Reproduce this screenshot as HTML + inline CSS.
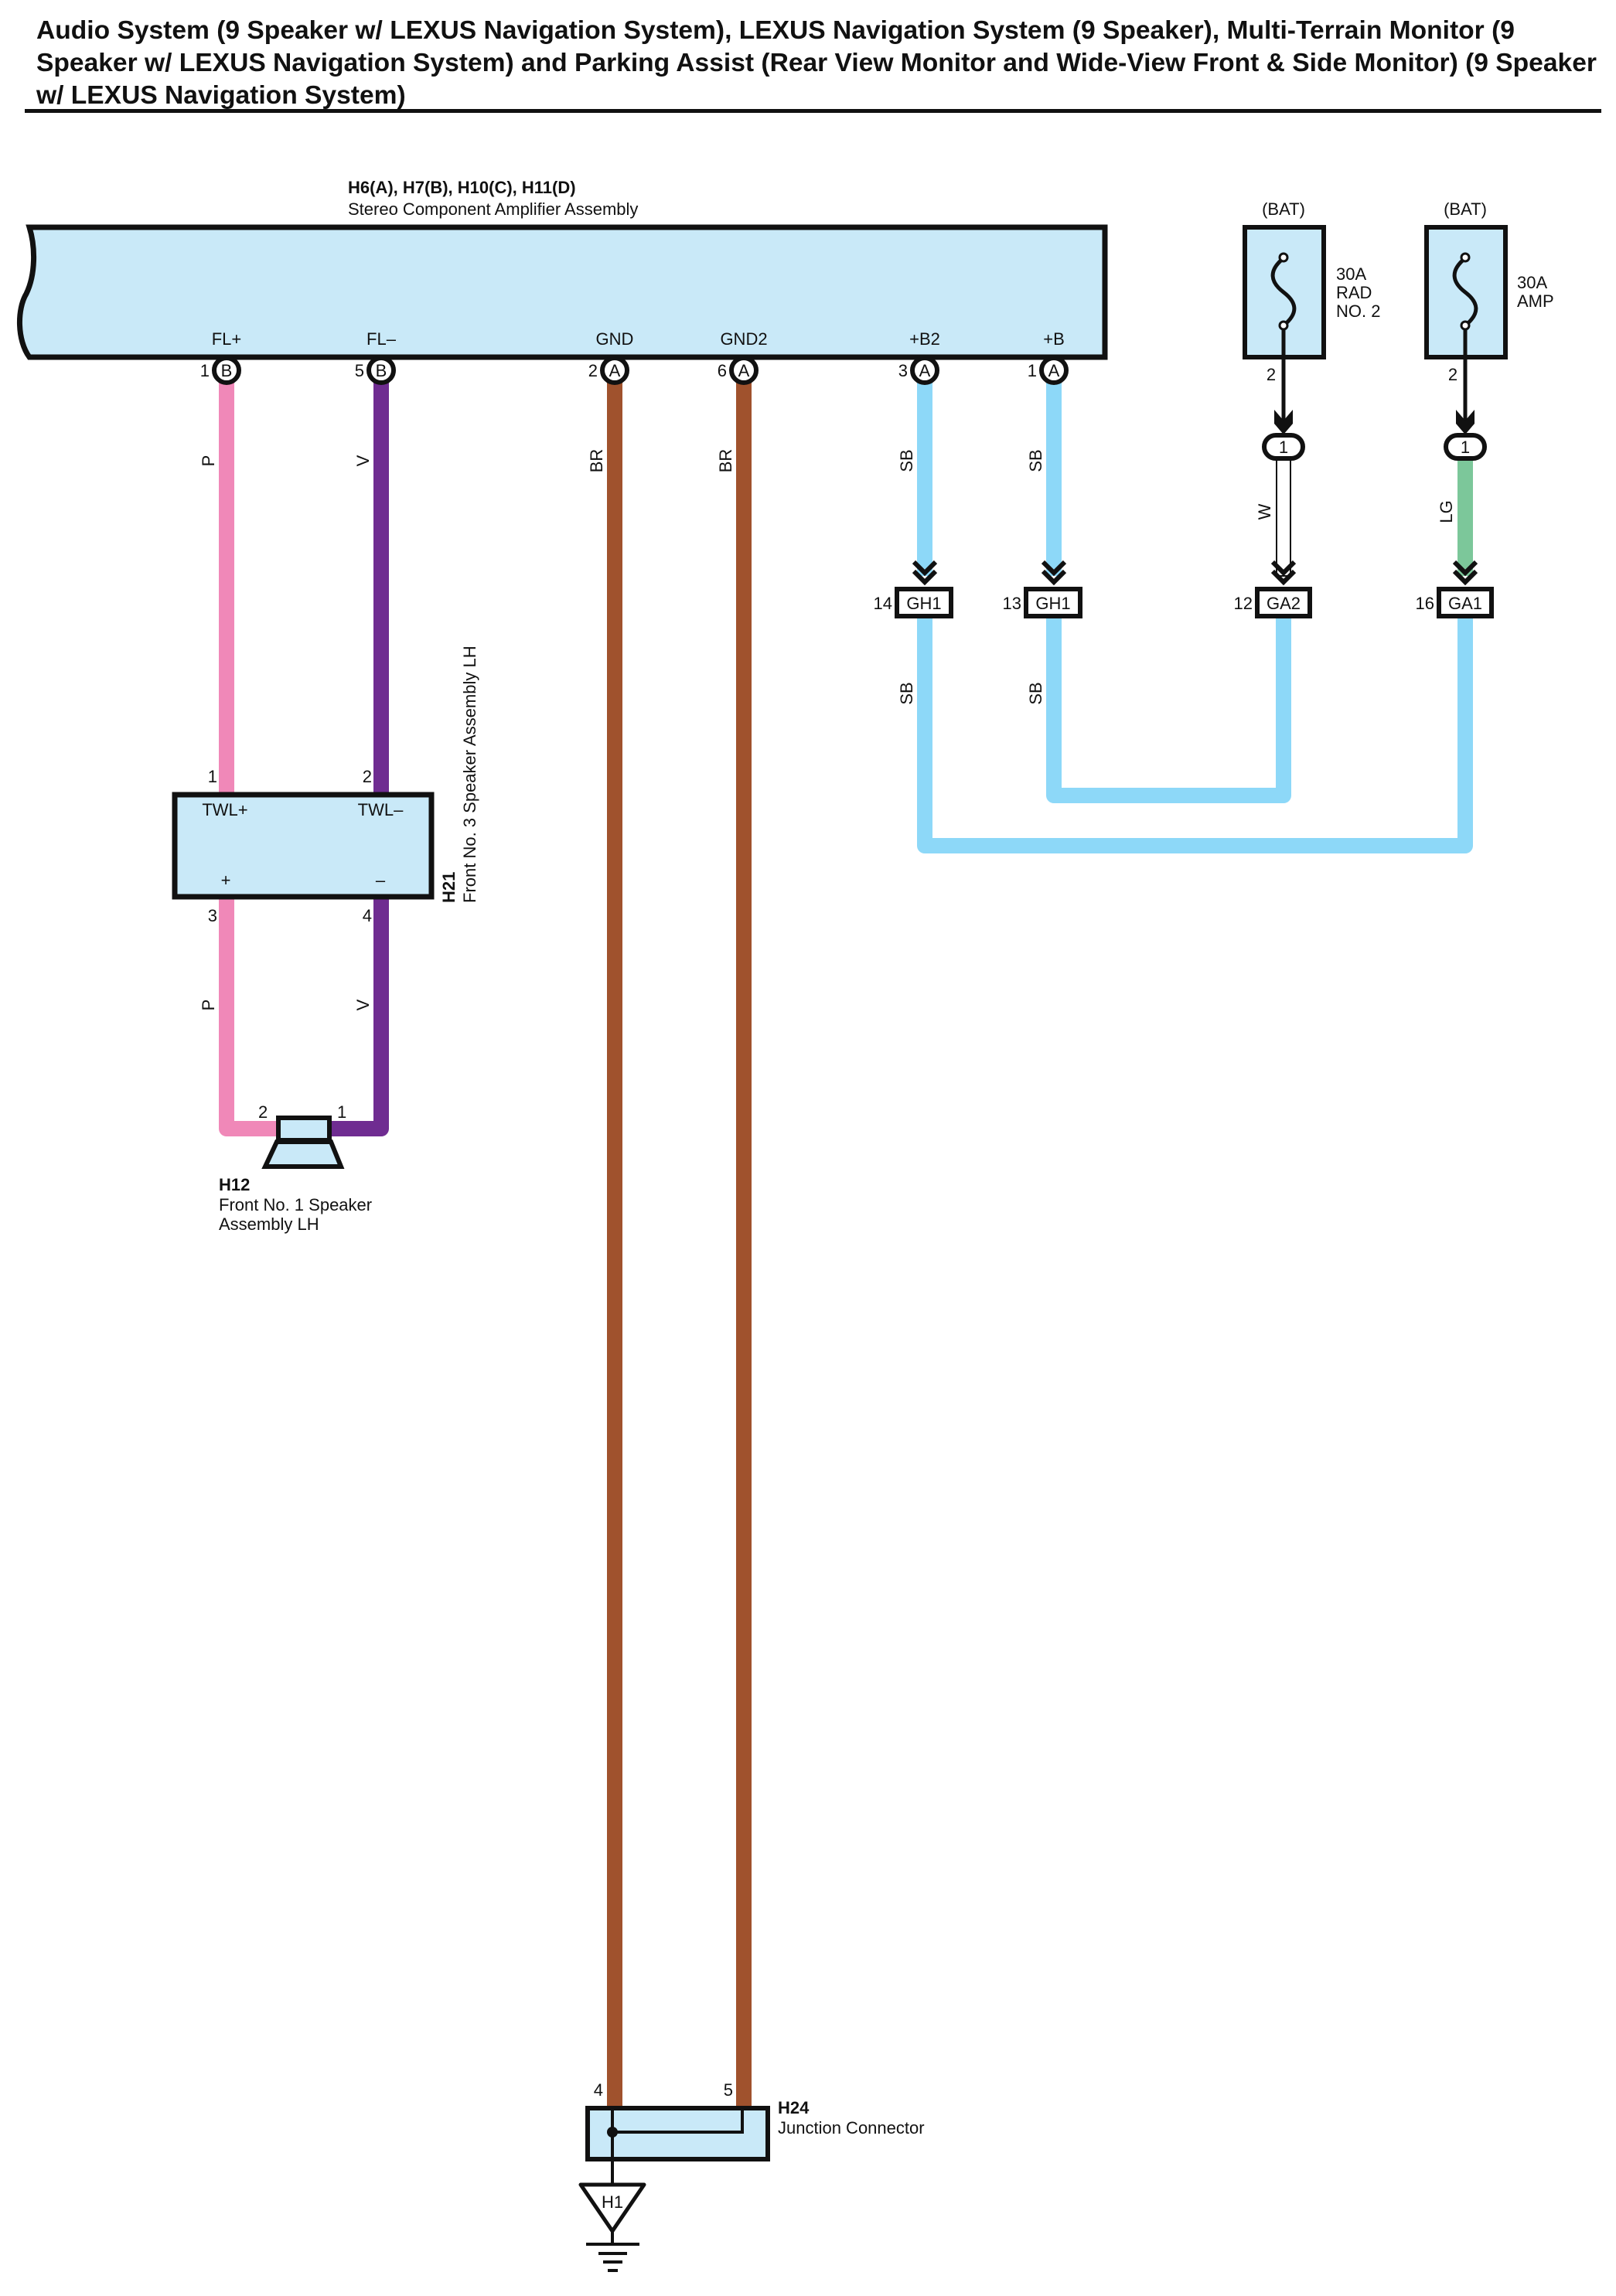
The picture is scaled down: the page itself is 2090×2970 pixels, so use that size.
<!DOCTYPE html>
<html><head><meta charset="utf-8"><style>
html,body{margin:0;padding:0;background:#fff}
svg{display:block}
text{font-family:"Liberation Sans",Arial,sans-serif;fill:#111}
.t{font-size:33.6px;font-weight:bold}
.s{font-size:22px}
.b{font-size:22px;font-weight:bold}
</style></head><body>
<svg width="2090" height="2970" viewBox="0 0 2090 2970" xmlns="http://www.w3.org/2000/svg">
<text class="t" x="47" y="50">Audio System (9 Speaker w/ LEXUS Navigation System), LEXUS Navigation System (9 Speaker), Multi-Terrain Monitor (9</text>
<text class="t" x="47" y="92">Speaker w/ LEXUS Navigation System) and Parking Assist (Rear View Monitor and Wide-View Front &amp; Side Monitor) (9 Speaker</text>
<text class="t" x="47" y="134">w/ LEXUS Navigation System)</text>
<rect x="32" y="141" width="2039" height="5" fill="#111"/>

<!-- amplifier -->
<text class="b" x="450" y="250">H6(A), H7(B), H10(C), H11(D)</text>
<text class="s" x="450" y="278">Stereo Component Amplifier Assembly</text>
<path d="M38,294 L1429,294 L1429,462 L38,462 C22,440 22,400 34,380 C46,355 46,320 38,294 Z" fill="#c9e9f8" stroke="#111" stroke-width="7"/>
<g class="s" text-anchor="middle">
<text x="293" y="446">FL+</text><text x="493" y="446">FL–</text><text x="795" y="446">GND</text>
<text x="962" y="446">GND2</text><text x="1196" y="446">+B2</text><text x="1363" y="446">+B</text>
</g>

<!-- wires -->
<g fill="none" stroke-width="20" stroke-linejoin="round">
<path d="M293,490 V1030" stroke="#f088b8"/>
<path d="M493,490 V1030" stroke="#6f2c91"/>
<path d="M293,1160 V1460 H360" stroke="#f088b8"/>
<path d="M493,1160 V1460 H425" stroke="#6f2c91"/>
<path d="M795,490 V2726" stroke="#a0522d"/>
<path d="M962,490 V2726" stroke="#a0522d"/>
<path d="M1196,490 V745" stroke="#8dd8f8"/>
<path d="M1363,490 V745" stroke="#8dd8f8"/>
<path d="M1196,798 V1094 H1895 V798" stroke="#8dd8f8"/>
<path d="M1363,798 V1029 H1660 V798" stroke="#8dd8f8"/>
<path d="M1895,595 V745" stroke="#7cc79a"/>
</g>
<!-- W wire -->
<rect x="1651" y="595" width="18" height="150" fill="#fff" stroke="#111" stroke-width="2"/>

<!-- pin circles -->
<g fill="#fff" stroke="#111" stroke-width="6">
<circle cx="293" cy="479" r="16"/><circle cx="493" cy="479" r="16"/><circle cx="795" cy="479" r="16"/>
<circle cx="962" cy="479" r="16"/><circle cx="1196" cy="479" r="16"/><circle cx="1363" cy="479" r="16"/>
</g>
<g class="s" text-anchor="middle">
<text x="293" y="487">B</text><text x="493" y="487">B</text><text x="795" y="487">A</text>
<text x="962" y="487">A</text><text x="1196" y="487">A</text><text x="1363" y="487">A</text>
</g>
<g class="s" text-anchor="end">
<text x="271" y="487">1</text><text x="471" y="487">5</text><text x="773" y="487">2</text>
<text x="940" y="487">6</text><text x="1174" y="487">3</text><text x="1341" y="487">1</text>
</g>

<!-- wire labels rotated -->
<g class="s" text-anchor="middle">
<text transform="translate(277,596) rotate(-90)">P</text>
<text transform="translate(477,596) rotate(-90)">V</text>
<text transform="translate(779,596) rotate(-90)">BR</text>
<text transform="translate(946,596) rotate(-90)">BR</text>
<text transform="translate(1180,596) rotate(-90)">SB</text>
<text transform="translate(1347,596) rotate(-90)">SB</text>
<text transform="translate(1180,897) rotate(-90)">SB</text>
<text transform="translate(1347,897) rotate(-90)">SB</text>
<text transform="translate(1643,662) rotate(-90)">W</text>
<text transform="translate(1878,662) rotate(-90)">LG</text>
<text transform="translate(277,1300) rotate(-90)">P</text>
<text transform="translate(477,1300) rotate(-90)">V</text>
</g>

<!-- chevrons -->
<g fill="none" stroke="#111" stroke-width="6">
<path d="M1182,727 L1196,741 L1210,727 M1182,739 L1196,753 L1210,739"/>
<path d="M1349,727 L1363,741 L1377,727 M1349,739 L1363,753 L1377,739"/>
<path d="M1646,727 L1660,741 L1674,727 M1646,739 L1660,753 L1674,739"/>
<path d="M1881,727 L1895,741 L1909,727 M1881,739 L1895,753 L1909,739"/>
</g>
<!-- in-line connector boxes -->
<g fill="#fff" stroke="#111" stroke-width="6">
<rect x="1160" y="762" width="70" height="35"/><rect x="1327" y="762" width="70" height="35"/>
<rect x="1626" y="762" width="68" height="35"/><rect x="1861" y="762" width="68" height="35"/>
</g>
<g class="s" text-anchor="middle">
<text x="1195" y="788">GH1</text><text x="1362" y="788">GH1</text><text x="1660" y="788">GA2</text><text x="1895" y="788">GA1</text>
</g>
<g class="s" text-anchor="end">
<text x="1154" y="788">14</text><text x="1321" y="788">13</text><text x="1620" y="788">12</text><text x="1855" y="788">16</text>
</g>

<!-- fuses -->
<g class="s" text-anchor="middle"><text x="1660" y="278">(BAT)</text><text x="1895" y="278">(BAT)</text></g>
<rect x="1610" y="294" width="102" height="168" fill="#c9e9f8" stroke="#111" stroke-width="6"/>
<rect x="1845" y="294" width="102" height="168" fill="#c9e9f8" stroke="#111" stroke-width="6"/>
<g fill="none" stroke="#111" stroke-width="5">
<path d="M1660,334 C1640,350 1643,365 1660,378 C1677,391 1680,405 1660,421"/>
<path d="M1895,334 C1875,350 1878,365 1895,378 C1912,391 1915,405 1895,421"/>
<path d="M1660,421 V548 M1895,421 V548"/>
</g>
<g fill="#fff" stroke="#111" stroke-width="3"><circle cx="1660" cy="333" r="5"/><circle cx="1660" cy="421" r="5"/><circle cx="1895" cy="333" r="5"/><circle cx="1895" cy="421" r="5"/></g>
<path d="M1648,530 L1660,544 L1672,530 L1672,548 L1660,562 L1648,548 Z" fill="#111"/>
<path d="M1883,530 L1895,544 L1907,530 L1907,548 L1895,562 L1883,548 Z" fill="#111"/>
<g fill="#fff" stroke="#111" stroke-width="6"><rect x="1635" y="563" width="50" height="30" rx="15"/><rect x="1870" y="563" width="50" height="30" rx="15"/></g>
<g class="s" text-anchor="middle"><text x="1660" y="586">1</text><text x="1895" y="586">1</text>
<text x="1644" y="492">2</text><text x="1879" y="492">2</text></g>
<g class="s"><text x="1728" y="362">30A</text><text x="1728" y="386">RAD</text><text x="1728" y="410">NO. 2</text>
<text x="1962" y="373">30A</text><text x="1962" y="397">AMP</text></g>

<!-- H21 -->
<rect x="226" y="1028" width="332" height="132" fill="#c9e9f8" stroke="#111" stroke-width="7"/>
<g class="s" text-anchor="middle"><text x="291" y="1055">TWL+</text><text x="492" y="1055">TWL–</text>
<text x="292" y="1146">+</text><text x="492" y="1146">–</text></g>
<g class="s" text-anchor="end"><text x="281" y="1012">1</text><text x="481" y="1012">2</text><text x="281" y="1192">3</text><text x="481" y="1192">4</text></g>
<text class="b" transform="translate(588,1168) rotate(-90)">H21</text>
<text class="s" transform="translate(615,1168) rotate(-90)">Front No.  3 Speaker Assembly LH</text>

<!-- H12 speaker -->
<rect x="360" y="1446" width="66" height="29" fill="#c9e9f8" stroke="#111" stroke-width="6"/>
<path d="M358,1477 L428,1477 L441,1509 L343,1509 Z" fill="#c9e9f8" stroke="#111" stroke-width="6"/>
<g class="s"><text x="334" y="1446">2</text><text x="436" y="1446">1</text></g>
<text class="b" x="283" y="1540">H12</text>
<text class="s" x="283" y="1566">Front No.  1 Speaker</text>
<text class="s" x="283" y="1591">Assembly LH</text>

<!-- H24 junction -->
<rect x="760" y="2727" width="233" height="66" fill="#c9e9f8" stroke="#111" stroke-width="6"/>
<path d="M792,2727 V2825 M792,2758 H960 V2727" fill="none" stroke="#111" stroke-width="4"/>
<circle cx="792" cy="2758" r="7" fill="#111"/>
<g class="s" text-anchor="end"><text x="780" y="2711">4</text><text x="948" y="2711">5</text></g>
<text class="b" x="1006" y="2734">H24</text>
<text class="s" x="1006" y="2760">Junction Connector</text>
<path d="M751,2826 L833,2826 L792,2886 Z" fill="#fff" stroke="#111" stroke-width="5" stroke-linejoin="round"/>
<text class="s" x="792" y="2856" text-anchor="middle">H1</text>
<g stroke="#111" stroke-width="4"><path d="M792,2886 V2903 M758,2903 H827 M774,2915 H811 M780,2926 H805 M786,2937 H799"/></g>
</svg>
</body></html>
